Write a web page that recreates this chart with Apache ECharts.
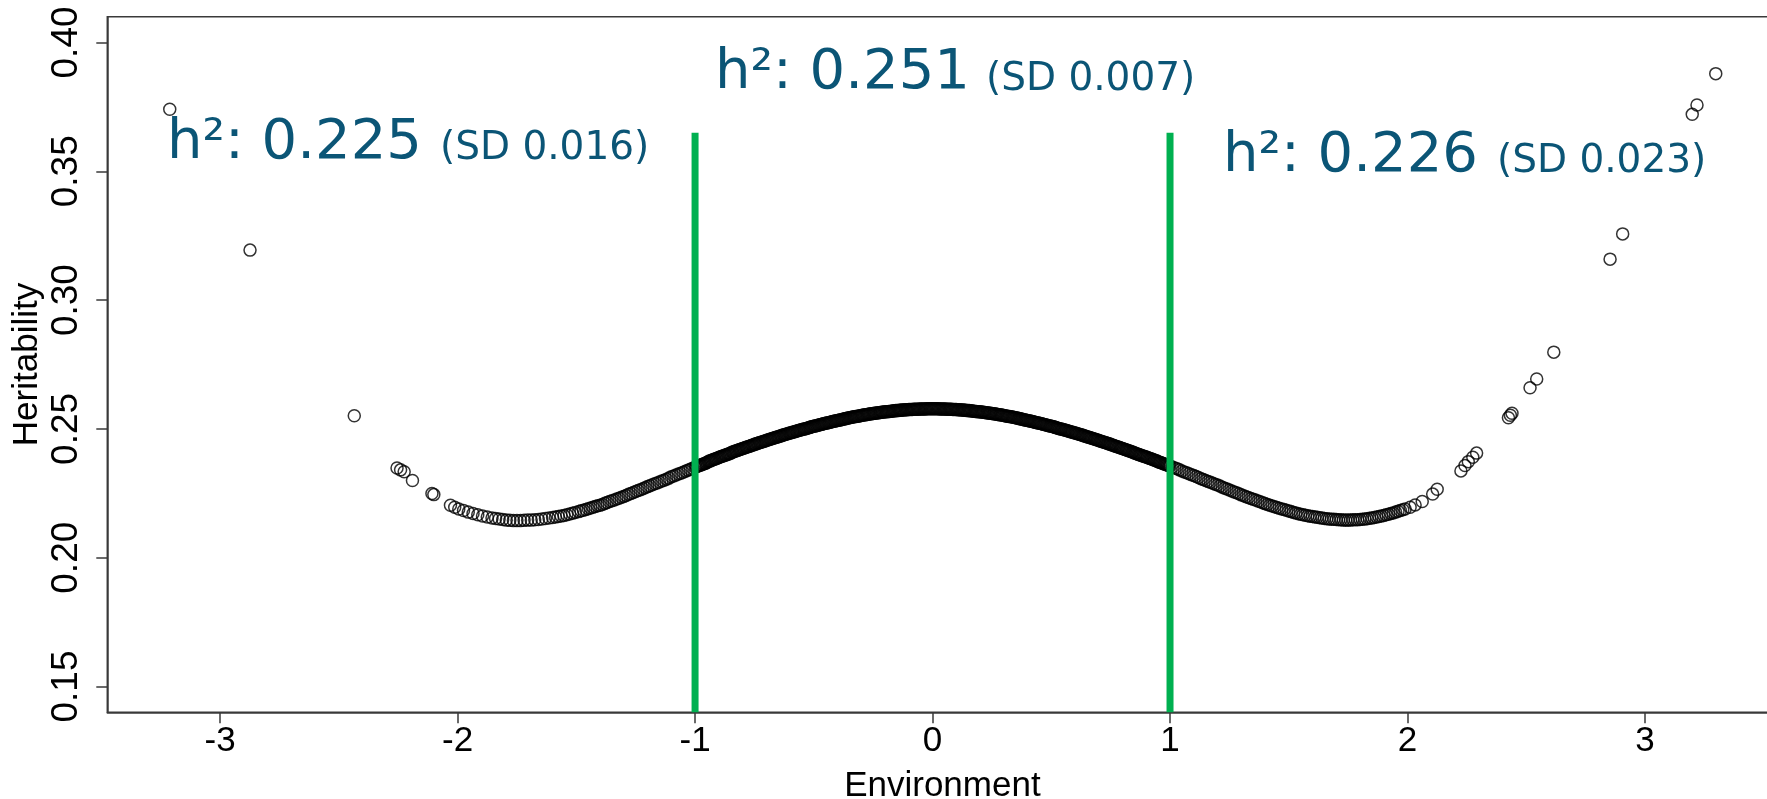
<!DOCTYPE html>
<html><head><meta charset="utf-8">
<script src="https://cdn.jsdelivr.net/npm/echarts@6/dist/echarts.min.js"></script>
<style>html,body{margin:0;padding:0;background:#fff}#c{width:1767px;height:799px}</style>
</head><body><div id="c"></div><script>
// ---- data ----
const xTicks = [-3, -2, -1, 0, 1, 2, 3];
const yTicks = [0.15, 0.20, 0.25, 0.30, 0.35, 0.40];
const cutX = [-1, 1];          // green cut-off lines
const cutTop = 0.365;
const annotations = [
  {big: 'h\u00b2: 0.225', small: '(SD 0.016)'},
  {big: 'h\u00b2: 0.251', small: '(SD 0.007)'},
  {big: 'h\u00b2: 0.226', small: '(SD 0.023)'}
];

const leftTailX = [-3.212,-2.874,-2.435,-2.255,-2.24,-2.225,-2.19,-2.108,-2.1,-2.03,-2.012];
const leftTailY = [.3741,.3194,.2551,.2348,.2341,.2334,.2300,.2249,.2245,.2204,.2196];

const leftBandX = [
-1.995,-1.975,-1.955,-1.935,-1.915,-1.895,-1.875,-1.855,-1.84,-1.825,
-1.81,-1.795,-1.78,-1.765,-1.75,-1.735,-1.72,-1.705,-1.69,-1.675,
-1.66,-1.645,-1.63,-1.615,-1.6,-1.588,-1.576,-1.564,-1.552,-1.54,
-1.528,-1.516,-1.504,
-1.49,-1.48,-1.47,-1.46,-1.45,-1.44,-1.43,-1.42,-1.41,-1.4,
-1.39,-1.38,-1.37,-1.36,-1.35,-1.34,-1.33,-1.32,-1.31,-1.3,
-1.29,-1.28,-1.27,-1.26,-1.25,-1.24,-1.23,-1.22,-1.21,-1.2,
-1.19,-1.18,-1.17,-1.16,-1.15,-1.14,-1.13,-1.12,-1.11,-1.1,
-1.09,-1.08,-1.07,-1.06,-1.05,-1.04,-1.03,-1.02,-1.01,-1.0];
const leftBandY = [
.2189,.2183,.2177,.2172,.2167,.2162,.2158,.2154,.2152,.2150,
.2148,.2146,.2145,.2144,.2144,.2144,.2145,.2146,.2146,.2147,
.2148,.2150,.2152,.2154,.2156,.2158,.2160,.2162,.2164,.2167,
.2170,.2173,.2176,
.2179,.2182,.2184,.2187,.2190,.2193,.2196,.2199,.2202,.2204,
.2207,.2211,.2214,.2218,.2221,.2224,.2228,.2231,.2235,.2238,
.2242,.2246,.2249,.2253,.2257,.2261,.2264,.2268,.2272,.2276,
.2279,.2283,.2287,.2290,.2294,.2298,.2301,.2305,.2309,.2314,
.2317,.2321,.2325,.2328,.2332,.2336,.2340,.2343,.2347,.2351];

const centerX = [
-.995,-.99,-.985,-.98,-.975,-.97,-.965,-.96,-.955,-.95,
-.945,-.94,-.935,-.93,-.925,-.92,-.915,-.91,-.905,-.9,
-.895,-.89,-.885,-.88,-.875,-.87,-.865,-.86,-.855,-.85,
-.845,-.84,-.835,-.83,-.825,-.82,-.815,-.81,-.805,-.8,
-.795,-.79,-.785,-.78,-.775,-.77,-.765,-.76,-.755,-.75,
-.745,-.74,-.735,-.73,-.725,-.72,-.715,-.71,-.705,-.7,
-.695,-.69,-.685,-.68,-.675,-.67,-.665,-.66,-.655,-.65,
-.645,-.64,-.635,-.63,-.625,-.62,-.615,-.61,-.605,-.6,
-.595,-.59,-.585,-.58,-.575,-.57,-.565,-.56,-.555,-.55,
-.545,-.54,-.535,-.53,-.525,-.52,-.515,-.51,-.505,-.5,
-.495,-.49,-.485,-.48,-.475,-.47,-.465,-.46,-.455,-.45,
-.445,-.44,-.435,-.43,-.425,-.42,-.415,-.41,-.405,-.4,
-.395,-.39,-.385,-.38,-.375,-.37,-.365,-.36,-.355,-.35,
-.345,-.34,-.335,-.33,-.325,-.32,-.315,-.31,-.305,-.3,
-.295,-.29,-.285,-.28,-.275,-.27,-.265,-.26,-.255,-.25,
-.245,-.24,-.235,-.23,-.225,-.22,-.215,-.21,-.205,-.2,
-.195,-.19,-.185,-.18,-.175,-.17,-.165,-.16,-.155,-.15,
-.145,-.14,-.135,-.13,-.125,-.12,-.115,-.11,-.105,-.1,
-.095,-.09,-.085,-.08,-.075,-.07,-.065,-.06,-.055,-.05,
-.045,-.04,-.035,-.03,-.025,-.02,-.015,-.01,-.005,0,
.005,.01,.015,.02,.025,.03,.035,.04,.045,.05,
.055,.06,.065,.07,.075,.08,.085,.09,.095,.1,
.105,.11,.115,.12,.125,.13,.135,.14,.145,.15,
.155,.16,.165,.17,.175,.18,.185,.19,.195,.2,
.205,.21,.215,.22,.225,.23,.235,.24,.245,.25,
.255,.26,.265,.27,.275,.28,.285,.29,.295,.3,
.305,.31,.315,.32,.325,.33,.335,.34,.345,.35,
.355,.36,.365,.37,.375,.38,.385,.39,.395,.4,
.405,.41,.415,.42,.425,.43,.435,.44,.445,.45,
.455,.46,.465,.47,.475,.48,.485,.49,.495,.5,
.505,.51,.515,.52,.525,.53,.535,.54,.545,.55,
.555,.56,.565,.57,.575,.58,.585,.59,.595,.6,
.605,.61,.615,.62,.625,.63,.635,.64,.645,.65,
.655,.66,.665,.67,.675,.68,.685,.69,.695,.7,
.705,.71,.715,.72,.725,.73,.735,.74,.745,.75,
.755,.76,.765,.77,.775,.78,.785,.79,.795,.8,
.805,.81,.815,.82,.825,.83,.835,.84,.845,.85,
.855,.86,.865,.87,.875,.88,.885,.89,.895,.9,
.905,.91,.915,.92,.925,.93,.935,.94,.945,.95,
.955,.96,.965,.97,.975,.98,.985,.99,.995];
const centerY = [
.2353,.2355,.2357,.2359,.2360,.2362,.2364,.2366,.2367,.2370,
.2373,.2375,.2376,.2378,.2380,.2382,.2383,.2385,.2387,.2389,
.2391,.2393,.2394,.2396,.2398,.2399,.2401,.2403,.2404,.2406,
.2409,.2410,.2412,.2414,.2415,.2417,.2419,.2420,.2422,.2424,
.2425,.2427,.2429,.2430,.2432,.2433,.2435,.2437,.2438,.2440,
.2441,.2443,.2444,.2446,.2447,.2449,.2450,.2452,.2453,.2455,
.2457,.2458,.2460,.2461,.2463,.2464,.2466,.2467,.2469,.2470,
.2471,.2473,.2474,.2476,.2477,.2478,.2480,.2481,.2483,.2484,
.2485,.2487,.2488,.2489,.2491,.2492,.2494,.2495,.2496,.2498,
.2499,.2500,.2501,.2502,.2504,.2505,.2506,.2508,.2509,.2510,
.2511,.2512,.2513,.2515,.2516,.2517,.2518,.2520,.2521,.2522,
.2523,.2524,.2525,.2526,.2528,.2529,.2530,.2531,.2532,.2533,
.2534,.2535,.2536,.2537,.2538,.2539,.2540,.2541,.2542,.2543,
.2544,.2545,.2546,.2547,.2548,.2548,.2549,.2550,.2551,.2552,
.2553,.2554,.2555,.2555,.2556,.2557,.2558,.2559,.2559,.2560,
.2561,.2561,.2562,.2563,.2563,.2564,.2565,.2565,.2566,.2567,
.2567,.2567,.2568,.2568,.2569,.2569,.2570,.2570,.2571,.2571,
.2571,.2572,.2572,.2573,.2573,.2573,.2574,.2574,.2574,.2575,
.2575,.2575,.2575,.2576,.2576,.2576,.2576,.2576,.2577,.2577,
.2577,.2577,.2577,.2577,.2578,.2578,.2578,.2578,.2578,.2578,
.2578,.2578,.2578,.2578,.2578,.2577,.2577,.2577,.2577,.2577,
.2577,.2576,.2576,.2576,.2576,.2576,.2575,.2575,.2575,.2575,
.2574,.2574,.2574,.2573,.2573,.2573,.2572,.2572,.2571,.2571,
.2571,.2570,.2570,.2569,.2569,.2568,.2568,.2567,.2567,.2567,
.2566,.2565,.2565,.2564,.2563,.2563,.2562,.2561,.2561,.2560,
.2559,.2559,.2558,.2557,.2556,.2555,.2555,.2554,.2553,.2552,
.2551,.2550,.2549,.2548,.2548,.2547,.2546,.2545,.2544,.2543,
.2542,.2541,.2540,.2539,.2538,.2537,.2536,.2535,.2534,.2533,
.2532,.2531,.2530,.2529,.2528,.2526,.2525,.2524,.2523,.2522,
.2521,.2520,.2518,.2517,.2516,.2515,.2513,.2512,.2511,.2510,
.2509,.2508,.2506,.2505,.2504,.2502,.2501,.2500,.2499,.2498,
.2496,.2495,.2494,.2492,.2491,.2489,.2488,.2487,.2485,.2484,
.2483,.2481,.2480,.2478,.2477,.2476,.2474,.2473,.2471,.2470,
.2469,.2467,.2466,.2464,.2463,.2461,.2460,.2458,.2457,.2455,
.2453,.2452,.2450,.2449,.2447,.2446,.2444,.2443,.2441,.2440,
.2438,.2437,.2435,.2433,.2432,.2430,.2429,.2427,.2425,.2424,
.2422,.2420,.2419,.2417,.2415,.2414,.2412,.2410,.2409,.2407,
.2405,.2404,.2402,.2400,.2399,.2397,.2395,.2394,.2392,.2391,
.2389,.2387,.2385,.2384,.2382,.2380,.2378,.2377,.2375,.2373,
.2371,.2370,.2368,.2366,.2364,.2363,.2361,.2359,.2357];

const rightBandX = [
1,1.01,1.02,1.03,1.04,1.05,1.06,1.07,1.08,1.09,
1.1,1.11,1.12,1.13,1.14,1.15,1.16,1.17,1.18,1.19,
1.2,1.21,1.22,1.23,1.24,1.25,1.26,1.27,1.28,1.29,
1.3,1.31,1.32,1.33,1.34,1.35,1.36,1.37,1.38,1.39,
1.4,1.41,1.42,1.43,1.44,1.45,1.46,1.47,1.48,1.49,
1.5,1.51,1.52,1.53,1.54,1.55,1.56,1.57,1.58,1.59,
1.6,1.61,1.62,1.63,1.64,1.65,1.66,1.67,1.68,1.69,
1.7,1.71,1.72,1.73,1.74,1.75,1.76,1.77,1.78,1.79,
1.8,1.81,1.82,1.83,1.84,1.85,1.86,1.87,1.88,1.89,
1.9,1.91,1.92,1.93,1.94,1.95,1.96,1.97,1.98,1.99];
const rightBandY = [
.2356,.2352,.2348,.2345,.2341,.2337,.2333,.2330,.2326,.2322,
.2319,.2315,.2311,.2307,.2304,.2300,.2296,.2293,.2289,.2285,
.2282,.2278,.2274,.2270,.2267,.2263,.2259,.2255,.2252,.2248,
.2244,.2241,.2237,.2234,.2230,.2227,.2224,.2220,.2217,.2213,
.2210,.2207,.2204,.2201,.2198,.2195,.2192,.2189,.2187,.2184,
.2181,.2179,.2176,.2174,.2171,.2169,.2167,.2165,.2163,.2161,
.2160,.2158,.2157,.2155,.2154,.2152,.2151,.2150,.2149,.2149,
.2148,.2147,.2147,.2146,.2146,.2146,.2146,.2147,.2147,.2147,
.2148,.2149,.2150,.2151,.2153,.2154,.2156,.2158,.2160,.2162,
.2164,.2167,.2169,.2172,.2174,.2177,.2180,.2183,.2186,.2189];

const rightTailX = [2.011,2.032,2.062,2.106,2.125,2.225,2.242,2.256,2.275,2.291,2.425,2.433,2.44,2.516,2.544,2.616,2.853,2.906,3.199,3.219,3.298];
const rightTailY = [.2196,.2205,.2218,.2247,.2266,.2337,.2358,.2373,.2390,.2406,.2543,.2553,.2561,.2660,.2694,.2798,.3159,.3257,.3721,.3757,.3879];

// ---- chart ----
function zip(xs, ys) { return xs.map(function (x, i) { return [x, ys[i]]; }); }
const points = [].concat(
  zip(leftTailX, leftTailY), zip(leftBandX, leftBandY), zip(centerX, centerY),
  zip(rightBandX, rightBandY), zip(rightTailX, rightTailY));

const SANS = '"Liberation Sans", Arial, sans-serif';
const TEAL = '#0b5576';
const annPos = [
  {bx: 167, sx: 440, base: 162.5},
  {bx: 715, sx: 986, base: 93},
  {bx: 1223, sx: 1497, base: 175.5}
];
const BIG = 56, SMALL = 39;
const graphics = [];
annotations.forEach(function (a, i) {
  const p = annPos[i];
  graphics.push({type: 'text', silent: true, z: 10, style: {
    text: a.big, x: p.bx, y: p.base - 0.346 * BIG, fill: TEAL,
    font: BIG + 'px "DejaVu Sans"', align: 'left', verticalAlign: 'middle'}});
  graphics.push({type: 'text', silent: true, z: 10, style: {
    text: a.small, x: p.sx, y: p.base - 0.346 * SMALL, fill: TEAL,
    font: SMALL + 'px "DejaVu Sans"', align: 'left', verticalAlign: 'middle'}});
});

const axisCol = '#3a3a3a';
const chart = echarts.init(document.getElementById('c'), null, {renderer: 'canvas'});
chart.setOption({
  animation: false,
  backgroundColor: '#ffffff',
  grid: {left: 107.3, top: 16.7, width: 1670.2, height: 695.6, show: true,
         outerBoundsMode: 'none', containLabel: false,
         borderColor: axisCol, borderWidth: 1.5, backgroundColor: 'transparent'},
  xAxis: {
    type: 'value', min: -3.475, max: 3.558,
    axisLine: {show: true, onZero: false, lineStyle: {color: axisCol, width: 1.5}},
    splitLine: {show: false},
    axisTick: {show: true, length: 11, inside: false, customValues: xTicks,
               lineStyle: {color: axisCol, width: 1.5}},
    axisLabel: {customValues: xTicks, fontSize: 35, fontFamily: SANS, color: '#000', margin: 12},
    name: 'Environment', nameLocation: 'middle', nameGap: 57,
    nameTextStyle: {fontSize: 35, fontFamily: SANS, color: '#000'}
  },
  yAxis: {
    type: 'value', min: 0.14, max: 0.41,
    axisLine: {show: true, onZero: false, lineStyle: {color: axisCol, width: 1.5}},
    splitLine: {show: false},
    axisTick: {show: true, length: 11, inside: false, customValues: yTicks,
               lineStyle: {color: axisCol, width: 1.5}},
    axisLabel: {customValues: yTicks, rotate: 90, fontSize: 37, fontFamily: SANS, color: '#000', margin: 22,
                formatter: function (v) { return v.toFixed(2); }},
    name: 'Heritability', nameLocation: 'middle', nameGap: 62, nameRotate: 90,
    nameMoveOverlap: false,
    nameTextStyle: {fontSize: 35, fontFamily: SANS, color: '#000'}
  },
  series: [
    {type: 'scatter', data: points, symbol: 'circle', symbolSize: 12, silent: true,
     itemStyle: {color: 'rgba(0,0,0,0)', borderColor: '#000', borderWidth: 1.5}, z: 2},
    {type: 'line', data: [[cutX[0], cutTop], [cutX[0], 0.14]], symbol: 'none', silent: true,
     lineStyle: {color: '#00b050', width: 7}, z: 5},
    {type: 'line', data: [[cutX[1], cutTop], [cutX[1], 0.14]], symbol: 'none', silent: true,
     lineStyle: {color: '#00b050', width: 7}, z: 5}
  ],
  graphic: graphics
});
</script></body></html>
